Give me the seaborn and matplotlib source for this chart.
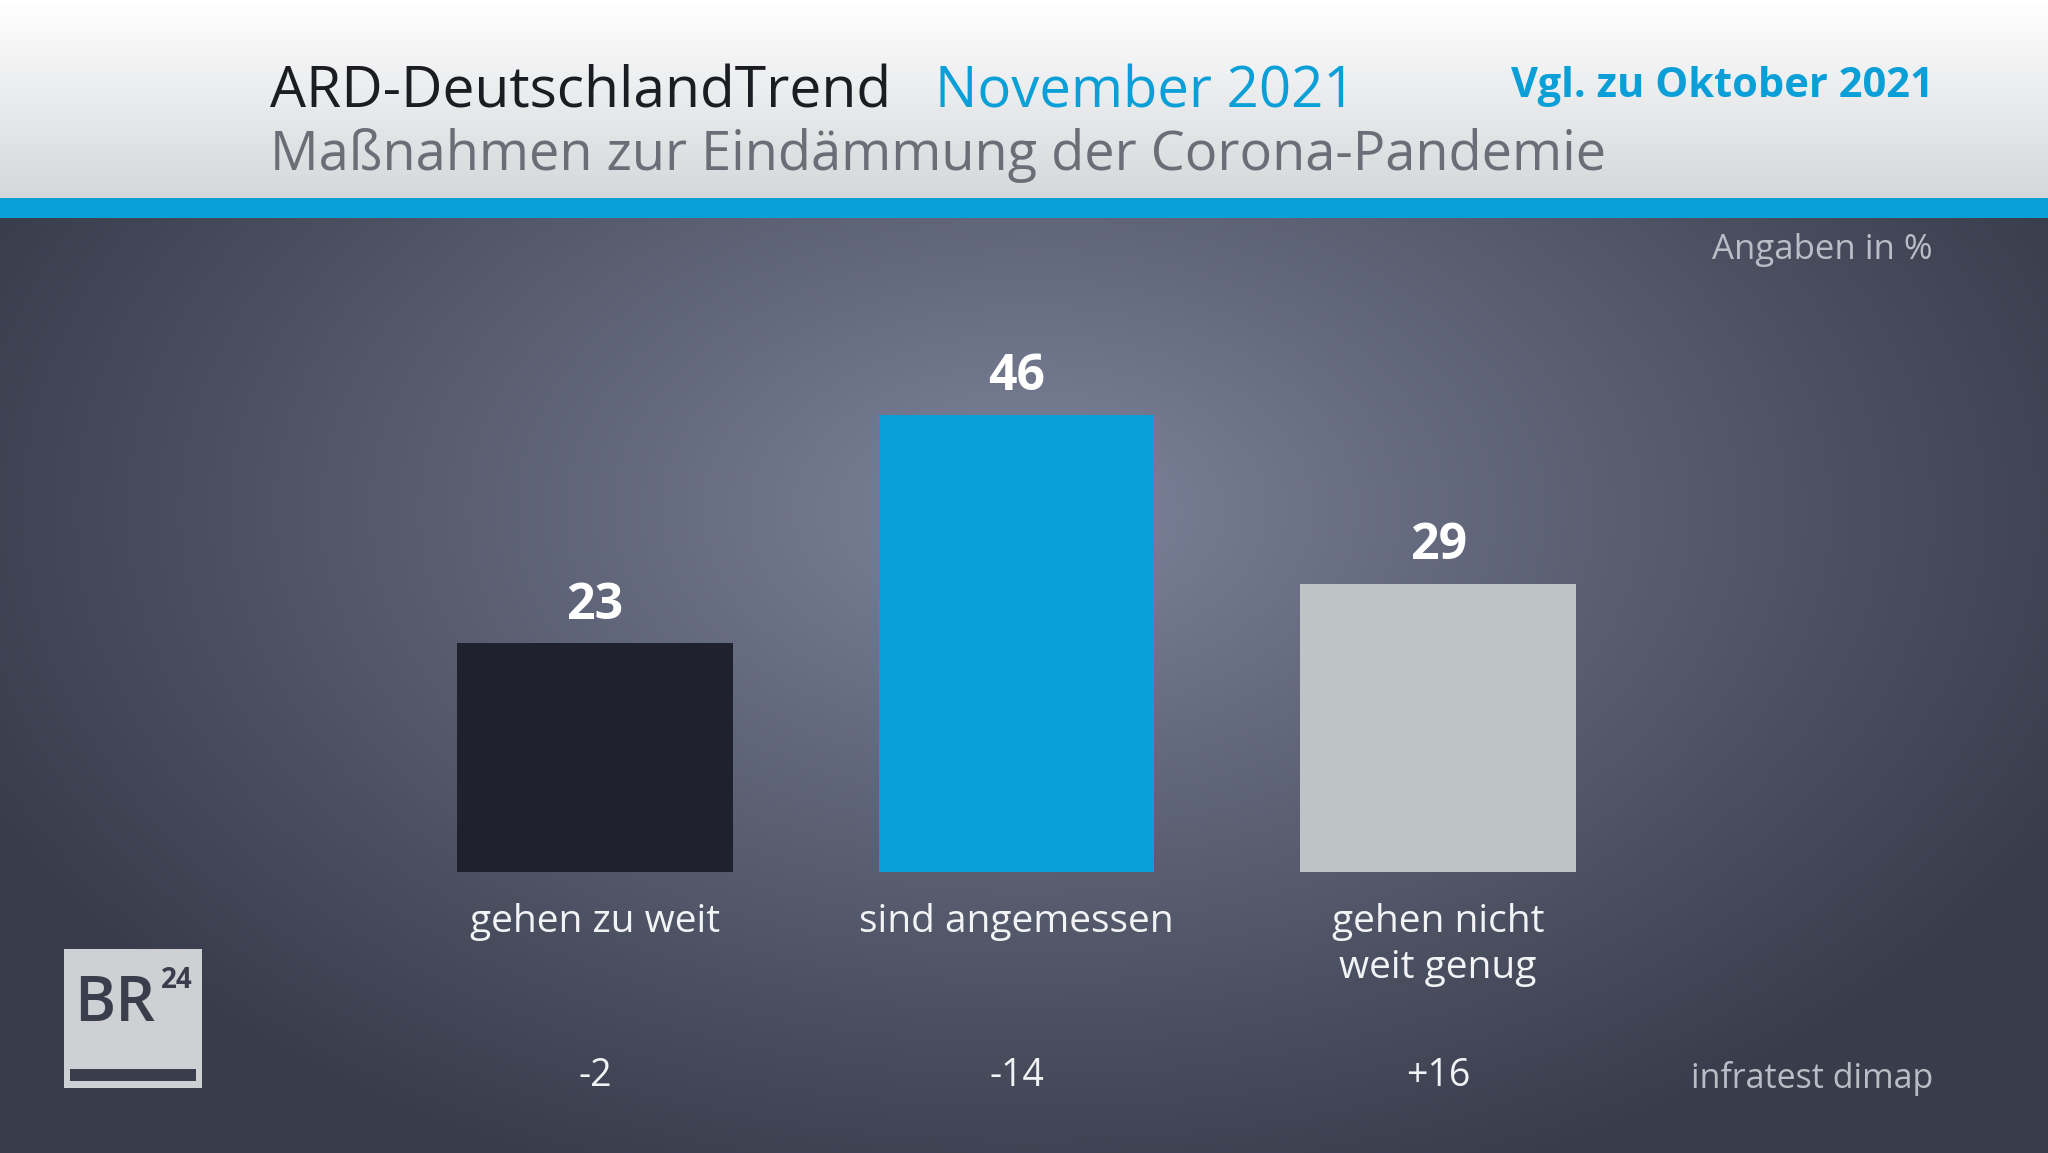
import numpy as np
import pandas as pd
import matplotlib
matplotlib.use("Agg")
import matplotlib.pyplot as plt
import seaborn as sns
from matplotlib.patches import Rectangle
from matplotlib.transforms import blended_transform_factory

# ---- data ----
categories = ["gehen zu weit", "sind angemessen", "gehen nicht\nweit genug"]
values = [23, 46, 29]
changes = ["-2", "-14", "+16"]
bar_colors = ["#1f222c", "#0b9fd8", "#bec3c6"]

title_left = "ARD-DeutschlandTrend"
title_month = "November 2021"
title_compare = "Vgl. zu Oktober 2021"
subtitle = "Maßnahmen zur Eindämmung der Corona-Pandemie"
unit_note = "Angaben in %"
source = "infratest dimap"

W, H = 2048, 1153
sns.set_theme(style="white")
plt.rcParams['font.family'] = ['Open Sans', 'DejaVu Sans']

fig = plt.figure(figsize=(W / 100, H / 100), dpi=100)

def fx(x):
    return x / W

def fy(y):
    return 1 - y / H

# ---- background ----
bg = fig.add_axes([0, 0, 1, 1], zorder=0)
bg.set_axis_off()
yy, xx = np.mgrid[0:H, 0:W]
cx, cy = 1030, 510
r = np.sqrt(((xx - cx) / 1150.0) ** 2 + ((yy - cy) / 720.0) ** 2)
r = np.clip(r, 0, 1)
c_in = np.array([0x80, 0x86, 0x9e]) / 255
c_out = np.array([0x38, 0x3c, 0x4b]) / 255
t = r[..., None] ** 0.9
img = c_in * (1 - t) + c_out * t
# header
hdr = 198
g = (yy[:hdr, :, None] / hdr)
top = np.array([1.0, 1.0, 1.0])
bot = np.array([0xd5, 0xd7, 0xda]) / 255
img[:hdr] = top * (1 - g) + bot * g
img[hdr:218] = np.array([0x0b, 0x9f, 0xd8]) / 255
bg.imshow(img, extent=[0, W, H, 0], aspect='auto', interpolation='bilinear')
bg.set_xlim(0, W)
bg.set_ylim(H, 0)

# ---- bars ----
left_px, right_px = 384, 1649
bottom_px = 872
px_per_unit = 9.94
ymax = 50
ax = fig.add_axes([fx(left_px), fy(bottom_px), (right_px - left_px) / W,
                   ymax * px_per_unit / H], zorder=2)
ax.patch.set_alpha(0)
df = pd.DataFrame({"cat": categories, "val": values})
sns.barplot(data=df, x="cat", y="val", hue="cat", palette=bar_colors,
            width=0.653, legend=False, ax=ax, saturation=1,
            edgecolor='none', linewidth=0)
ax.set_xlim(-0.5, 2.5)
ax.set_ylim(0, ymax)
for s in ax.spines.values():
    s.set_visible(False)
ax.set_yticks([])
ax.set_xlabel("")
ax.set_ylabel("")
ax.tick_params(axis='x', length=0, pad=22, labelsize=28, labelcolor="#f2f3f5")
for lbl in ax.get_xticklabels():
    lbl.set_linespacing(1.3)
    lbl.set_verticalalignment('top')

for i, v in enumerate(values):
    ax.annotate(f"{v}", (i, v), xytext=(0, 9), textcoords='offset points',
                ha='center', va='bottom', fontsize=36, fontweight='bold',
                color='white')

trans = blended_transform_factory(ax.transData, fig.transFigure)
for i, c in enumerate(changes):
    ax.text(i, fy(1076), c, transform=trans, ha='center', va='center',
            fontsize=27, color='#f2f3f5')

# ---- header texts ----
fig.text(fx(270), fy(107), title_left, fontsize=41, color='#1c1d22',
         ha='left', va='baseline', zorder=3)
fig.text(fx(935), fy(107), title_month, fontsize=40.5, color='#0b9fd8',
         ha='left', va='baseline', zorder=3)
fig.text(fx(1934), fy(97), title_compare, fontsize=30, fontweight='bold',
         color='#0b9fd8', ha='right', va='baseline', zorder=3)
fig.text(fx(270), fy(170), subtitle, fontsize=39, color='#6b6e76',
         ha='left', va='baseline', zorder=3)
fig.text(fx(1933), fy(259), unit_note, fontsize=25, color='#b9bdc6',
         ha='right', va='baseline', zorder=3)
fig.text(fx(1933), fy(1088), source, fontsize=24.5, color='#b9bdc6',
         ha='right', va='baseline', zorder=3)

# ---- logo ----
fig.patches.append(Rectangle((fx(64), fy(1088)), 138 / W, 139 / H,
                             transform=fig.transFigure, facecolor='#cfd0d4',
                             edgecolor='none', zorder=3))
fig.patches.append(Rectangle((fx(70), fy(1081)), 126 / W, 12 / H,
                             transform=fig.transFigure, facecolor='#3a3d4b',
                             edgecolor='none', zorder=4))
fig.text(fx(74), fy(1021), "BR", fontsize=45, fontweight='semibold',
         color='#3a3d4b', ha='left', va='baseline', zorder=4)
fig.text(fx(161), fy(988), "24", fontsize=20, fontweight='bold',
         color='#3a3d4b', ha='left', va='baseline', zorder=4)

fig.savefig("out.png", dpi=100)
